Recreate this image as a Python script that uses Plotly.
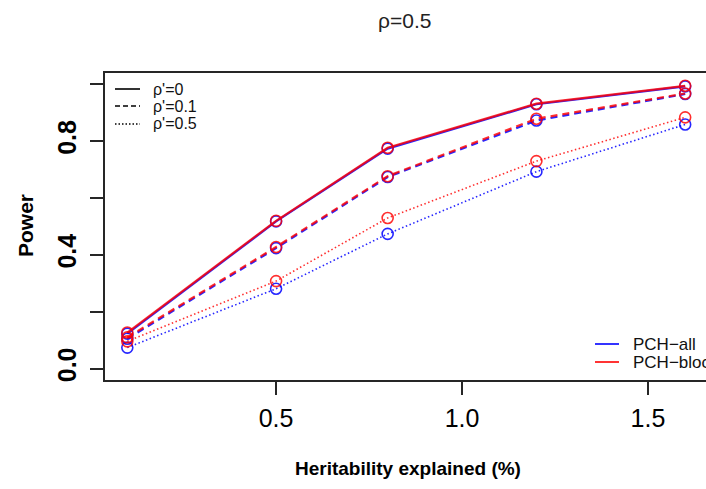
import plotly.graph_objects as go

# ---- data ----
heritability = [0.1, 0.5, 0.8, 1.2, 1.6]
rho_prime_labels = ["ρ'=0", "ρ'=0.1", "ρ'=0.5"]
method_labels = ["PCH\u2212all", "PCH\u2212block"]

pch_all_r0 = [0.123, 0.518, 0.774, 0.930, 0.993]
pch_all_r01 = [0.105, 0.424, 0.674, 0.873, 0.966]
pch_all_r05 = [0.074, 0.281, 0.474, 0.693, 0.859]

pch_block_r0 = [0.127, 0.520, 0.777, 0.932, 0.995]
pch_block_r01 = [0.110, 0.428, 0.677, 0.879, 0.968]
pch_block_r05 = [0.096, 0.308, 0.530, 0.730, 0.884]

y_tick_vals = [0.0, 0.2, 0.4, 0.6, 0.8, 1.0]
y_tick_text = ["0.0", "", "0.4", "", "0.8", ""]
x_tick_vals = [0.5, 1.0, 1.5]
x_tick_text = ["0.5", "1.0", "1.5"]

# ---- layout geometry (pixels) ----
W, H = 706, 489
ML, MR, MT, MB = 105, 0, 73, 109
PW, PH = W - ML - MR, H - MT - MB


def px(X):
    return (X - ML) / PW


def py(Y):
    return (H - MB - Y) / PH


FONT = "Liberation Sans, Arial, sans-serif"
BLUE = "rgba(0,0,255,0.85)"
RED = "rgba(255,0,0,0.82)"

dash_styles = ["solid", "7px,5px", "1.5px,2.5px"]
widths = [2.2, 2.2, 1.6]

fig = go.Figure()

series = [
    (method_labels[0], BLUE, [pch_all_r0, pch_all_r01, pch_all_r05]),
    (method_labels[1], RED, [pch_block_r0, pch_block_r01, pch_block_r05]),
]
for name, col, ys in series:
    for k, yv in enumerate(ys):
        fig.add_trace(go.Scatter(
            x=heritability, y=yv, mode="lines+markers",
            name=f"{name} {rho_prime_labels[k]}",
            line=dict(color=col, width=widths[k], dash=dash_styles[k]),
            marker=dict(symbol="circle-open", size=11, color=col,
                        line=dict(width=1.6, color=col)),
            showlegend=False,
        ))

AX = "#262626"
fig.update_layout(
    width=W, height=H,
    margin=dict(l=ML, r=MR, t=MT, b=MB),
    paper_bgcolor="white", plot_bgcolor="white",
    font=dict(family=FONT, color="black"),
    xaxis=dict(range=[0.04, 1.656], tickvals=x_tick_vals, ticktext=x_tick_text,
               showgrid=False, zeroline=False, showline=True, linecolor=AX,
               linewidth=2, mirror=True, ticks="outside", ticklen=13,
               tickwidth=2, tickcolor=AX, ticklabelstandoff=2,
               tickfont=dict(size=25, family=FONT, color="black")),
    yaxis=dict(range=[-0.04, 1.04], tickvals=y_tick_vals, ticktext=y_tick_text,
               showgrid=False, zeroline=False, showline=True, linecolor=AX,
               linewidth=2, ticks="outside", ticklen=13, tickwidth=2,
               tickcolor=AX, tickangle=-90, ticklabelstandoff=4,
               tickfont=dict(size=25, family=FONT, color="black", weight="bold")),
)

ann = []
# title
ann.append(dict(text="ρ=0.5", x=px(404), y=py(21), xref="paper", yref="paper",
                showarrow=False, xanchor="center", yanchor="middle",
                font=dict(size=21, family=FONT, color="#222")))
# axis titles
ann.append(dict(text="<b>Heritability explained (%)</b>", x=px(408), y=py(468),
                xref="paper", yref="paper", showarrow=False, xanchor="center",
                yanchor="middle", font=dict(size=19, family=FONT, color="black")))
ann.append(dict(text="<b>Power</b>", x=px(25), y=py(226), xref="paper", yref="paper",
                showarrow=False, xanchor="center", yanchor="middle", textangle=-90,
                font=dict(size=21, family=FONT, color="black")))

shapes = []
# legend 1 (line types)
leg1_y = [89, 106, 124]
for k, lbl in enumerate(rho_prime_labels):
    shapes.append(dict(type="line", xref="paper", yref="paper",
                       x0=px(115), x1=px(140), y0=py(leg1_y[k]), y1=py(leg1_y[k]),
                       line=dict(color="black", width=1.6 if k < 2 else 1.3,
                                 dash=["solid", "5px,3px", "1.5px,2px"][k])))
    ann.append(dict(text=lbl, x=px(151), y=py(leg1_y[k]), xref="paper", yref="paper",
                    showarrow=False, xanchor="left", yanchor="middle",
                    font=dict(size=16, family=FONT, color="#111")))
# legend 2 (methods)
leg2_y = [344, 362]
for k, (lbl, col) in enumerate(zip(method_labels, ["blue", "red"])):
    shapes.append(dict(type="line", xref="paper", yref="paper",
                       x0=px(595), x1=px(619), y0=py(leg2_y[k]), y1=py(leg2_y[k]),
                       line=dict(color=col, width=1.6)))
    ann.append(dict(text=lbl, x=px(631), y=py(leg2_y[k]), xref="paper", yref="paper",
                    showarrow=False, xanchor="left", yanchor="middle",
                    font=dict(size=17, family=FONT, color="#111")))

fig.update_layout(annotations=ann, shapes=shapes)
fig.write_html("out.html",
               config={"displayModeBar": False},
               post_script="document.body.style.margin='0';"
                           "document.body.style.overflow='hidden';")
